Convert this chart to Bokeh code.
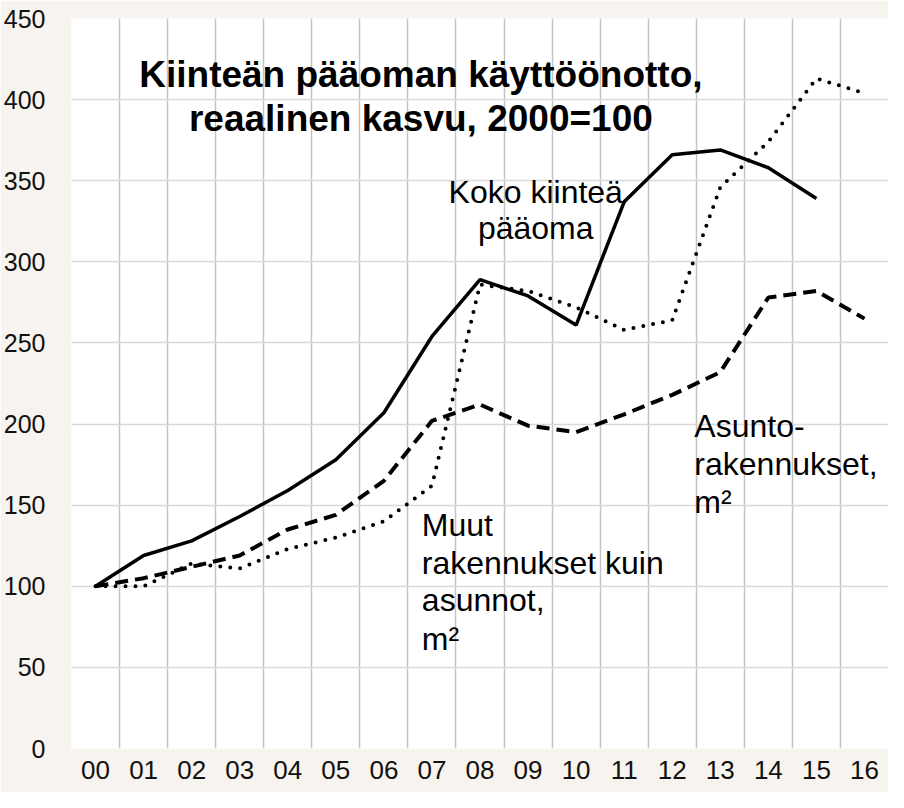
from bokeh.plotting import figure
from bokeh.models import Range1d, FixedTicker, SingleIntervalTicker
from bokeh.core.properties import value
from bokeh.embed import file_html
from bokeh.resources import INLINE

years = ["00", "01", "02", "03", "04", "05", "06", "07", "08", "09",
         "10", "11", "12", "13", "14", "15", "16"]
koko = [100, 119, 128, 143, 159, 178, 207, 254, 289, 279, 261, 337, 366, 369, 358, 339]
asunto = [100, 105, 112, 119, 135, 144, 165, 202, 212, 199, 195, 206, 218, 232, 278, 282, 265]
muut = [100, 100, 114, 111, 123, 130, 140, 162, 286, 282, 272, 258, 264, 346, 374, 413, 404]

title_lines = ["Kiinteän pääoman käyttöönotto,", "reaalinen kasvu, 2000=100"]
koko_label = ["Koko kiinteä", "pääoma"]
muut_label = ["Muut", "rakennukset kuin", "asunnot,", "m²"]
asunto_label = ["Asunto-", "rakennukset,", "m²"]

FONT = "Liberation Sans"
n = len(years)
xs = list(range(n))

p = figure(width=888, height=792,
           x_range=Range1d(-0.5, n - 0.5), y_range=Range1d(0, 450),
           output_backend="svg", toolbar_location=None,
           background_fill_color="white", border_fill_color="#f7f3ee",
           min_border_left=70, min_border_right=0, min_border_top=18, min_border_bottom=44)
p.outline_line_color = None

# axes
p.xaxis.ticker = FixedTicker(ticks=xs)
p.xaxis.major_label_overrides = {i: y for i, y in enumerate(years)}
p.yaxis.ticker = SingleIntervalTicker(interval=50)
for ax in (p.xaxis[0], p.yaxis[0]):
    ax.axis_line_color = None
    ax.major_tick_line_color = None
    ax.minor_tick_line_color = None
    ax.major_label_text_font = FONT
    ax.major_label_text_color = "#111111"
p.yaxis.major_label_text_font_size = "25px"
p.xaxis.major_label_text_font_size = "26px"
p.yaxis.major_label_standoff = 20
p.xaxis.major_label_standoff = 6

# grids
p.xgrid.ticker = FixedTicker(ticks=[i - 0.5 for i in range(n + 1)])
p.xgrid.grid_line_color = "#c4c4c4"
p.xgrid.grid_line_width = 1.5
p.ygrid.grid_line_color = "#d9d9d9"
p.ygrid.grid_line_width = 1.5

# series
p.line(xs[:len(koko)], koko, line_color="black", line_width=3.5)
p.line(xs, asunto, line_color="black", line_width=4, line_dash="13 7")
p.line(xs, muut, line_color="black", line_width=4, line_dash="0 10", line_cap="round")

# title
p.text(x=[6.77, 6.77], y=[415.6, 388.4], text=title_lines,
       text_font=value(FONT), text_font_size="37px", text_font_style="bold",
       text_align="center", text_baseline="alphabetic", text_color="black")

# annotations
p.text(x=[9.16] * 2, y=[343.2, 320.6], text=koko_label,
       text_font=value(FONT), text_font_size="32px",
       text_align="center", text_baseline="alphabetic", text_color="black")
p.text(x=[6.79] * 4, y=[137.9, 114.5, 91.3, 67.8], text=muut_label,
       text_font=value(FONT), text_font_size="32px",
       text_align="left", text_baseline="alphabetic", text_color="black")
p.text(x=[12.46] * 3, y=[199.0, 175.4, 151.8], text=asunto_label,
       text_font=value(FONT), text_font_size="32px",
       text_align="left", text_baseline="alphabetic", text_color="black")

open("out.html", "w").write(file_html(p, INLINE))
